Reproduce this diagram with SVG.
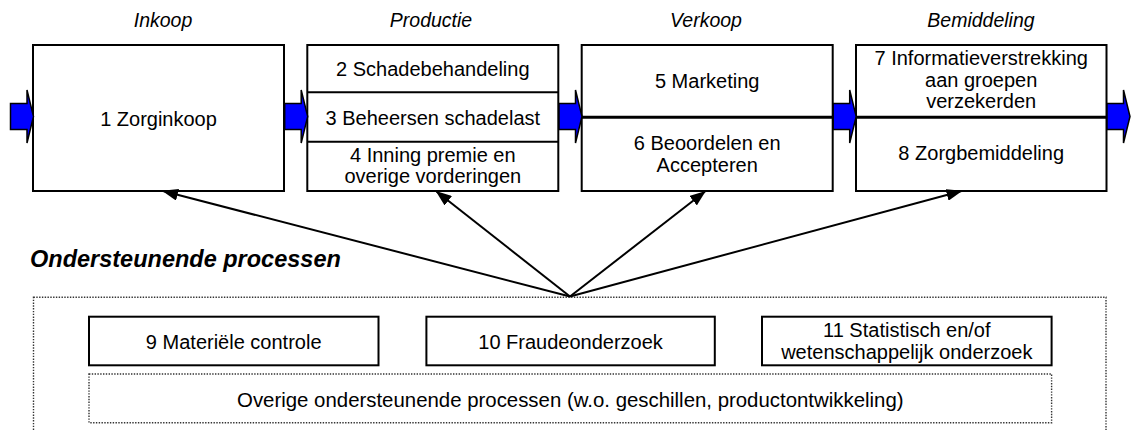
<svg xmlns="http://www.w3.org/2000/svg" width="1131" height="430" viewBox="0 0 1131 430">
  <style>
    .box { fill: #fff; stroke: #000; stroke-width: 2; }
    .div { stroke: #000; stroke-width: 2; }
    .divt { stroke: #000; stroke-width: 3; }
    .dot { fill: none; stroke: #333; stroke-width: 1.4; stroke-dasharray: 1.4 1.4; }
    .t { font-family: "Liberation Sans", Arial, sans-serif; font-size: 20px; fill: #000; text-anchor: middle; }
    .h { font-family: "Liberation Sans", Arial, sans-serif; font-size: 19.5px; font-style: italic; fill: #000; text-anchor: middle; }
    .title { font-family: "Liberation Sans", Arial, sans-serif; font-size: 23.5px; font-style: italic; font-weight: bold; fill: #000; }
    .flow { fill: #0000ff; stroke: #000; stroke-width: 1.5; stroke-linejoin: miter; }
    .conn { stroke: #000; stroke-width: 2; fill: none; }
  </style>
  <defs>
    <path id="blk" d="M0,103.5 H16.5 V90 L23,116.5 L16.5,143 V129.5 H0 Z"/>
    <marker id="ah" markerUnits="userSpaceOnUse" markerWidth="16" markerHeight="12" viewBox="0 0 16 12" refX="15" refY="6" orient="auto">
      <path d="M0,0 L16,6 L0,12 Z" fill="#000"/>
    </marker>
  </defs>
  <rect width="1131" height="430" fill="#fff"/>

  <g id="headers">
    <text class="h" x="163" y="27">Inkoop</text>
    <text class="h" x="431" y="27">Productie</text>
    <text class="h" x="706" y="27">Verkoop</text>
    <text class="h" x="981" y="27">Bemiddeling</text>
  </g>

  <g id="node-inkoop">
    <rect class="box" x="33" y="45" width="251" height="146"/>
    <text class="t" x="158.5" y="126">1 Zorginkoop</text>
  </g>

  <g id="node-productie">
    <rect class="box" x="307.3" y="45" width="251" height="146"/>
    <line class="div" x1="307.3" y1="92.3" x2="558.3" y2="92.3"/>
    <line class="div" x1="307.3" y1="141.7" x2="558.3" y2="141.7"/>
    <text class="t" x="432.8" y="75.7">2 Schadebehandeling</text>
    <text class="t" x="432.8" y="125">3 Beheersen schadelast</text>
    <text class="t" x="432.8" y="161.7">4 Inning premie en</text>
    <text class="t" x="432.8" y="183.3">overige vorderingen</text>
  </g>

  <g id="node-verkoop">
    <rect class="box" x="581.7" y="45" width="251" height="146"/>
    <line class="divt" x1="581.7" y1="117.3" x2="832.7" y2="117.3"/>
    <text class="t" x="707.2" y="88.3">5 Marketing</text>
    <text class="t" x="707.2" y="150">6 Beoordelen en</text>
    <text class="t" x="707.2" y="171.7">Accepteren</text>
  </g>

  <g id="node-bemiddeling">
    <rect class="box" x="856" y="45" width="250.5" height="146"/>
    <line class="divt" x1="856" y1="117.3" x2="1106.5" y2="117.3"/>
    <text class="t" x="981.2" y="65">7 Informatieverstrekking</text>
    <text class="t" x="981.2" y="86.7">aan groepen</text>
    <text class="t" x="981.2" y="108.3">verzekerden</text>
    <text class="t" x="981.2" y="160">8 Zorgbemiddeling</text>
  </g>

  <g id="flow-arrows">
    <use href="#blk" class="flow" transform="translate(10.5,0)"/>
    <use href="#blk" class="flow" transform="translate(284.7,0)"/>
    <use href="#blk" class="flow" transform="translate(559,0)"/>
    <use href="#blk" class="flow" transform="translate(833.2,0)"/>
    <use href="#blk" class="flow" transform="translate(1107,0)"/>
  </g>

  <text class="title" x="30" y="267">Ondersteunende processen</text>

  <g id="support">
    <rect class="dot" x="33.5" y="297.3" width="1072.5" height="160"/>
  </g>

  <g id="connectors">
    <line class="conn" x1="570" y1="296.5" x2="163" y2="191" marker-end="url(#ah)"/>
    <line class="conn" x1="570" y1="296.5" x2="436.5" y2="191.5" marker-end="url(#ah)"/>
    <line class="conn" x1="570" y1="296.5" x2="705" y2="191.5" marker-end="url(#ah)"/>
    <line class="conn" x1="570" y1="296.5" x2="961.5" y2="191" marker-end="url(#ah)"/>
  </g>

  <g id="node-materiele">
    <rect class="box" x="89" y="316.7" width="289.5" height="48.6"/>
    <text class="t" x="233.7" y="349.3">9 Materiële controle</text>
  </g>

  <g id="node-fraude">
    <rect class="box" x="426.4" y="316.7" width="288.4" height="48.6"/>
    <text class="t" x="570.6" y="349.3">10 Fraudeonderzoek</text>
  </g>

  <g id="node-statistisch">
    <rect class="box" x="762" y="316.7" width="289.6" height="48.6"/>
    <text class="t" x="906.8" y="337">11 Statistisch en/of</text>
    <text class="t" x="906.8" y="358.5">wetenschappelijk onderzoek</text>
  </g>

  <g id="node-overige">
    <rect class="dot" x="89" y="374" width="962.6" height="48.7"/>
    <text class="t" x="570.3" y="406.7" style="font-size:20.4px">Overige ondersteunende processen (w.o. geschillen, productontwikkeling)</text>
  </g>
</svg>
